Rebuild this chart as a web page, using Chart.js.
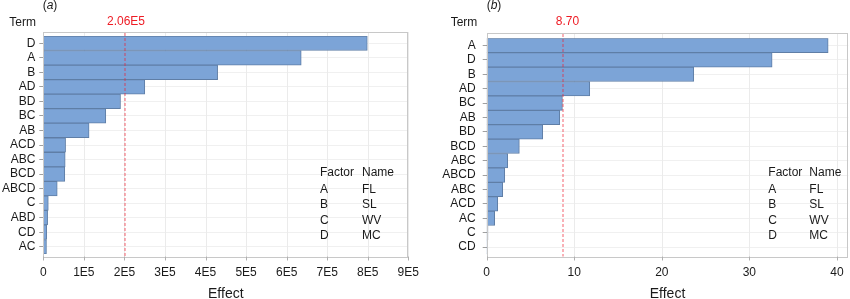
<!DOCTYPE html>
<html>
<head>
<meta charset="utf-8">
<script src="https://cdn.jsdelivr.net/npm/chart.js@4.4.1/dist/chart.umd.min.js"></script>
<style>
  body { margin: 0; background: #fff; }
  #wrap { position: relative; width: 850px; height: 299px; }
  #chartA { position: absolute; left: 0; top: 0; }
  #chartB { position: absolute; left: 420px; top: 0; }
</style>
</head>
<body>
<div id="wrap">
  <canvas id="chartA" width="420" height="299"></canvas>
  <canvas id="chartB" width="430" height="299"></canvas>
</div>
<script>
// panel (a)
const termsA = ['D', 'A', 'B', 'AD', 'BD', 'BC', 'AB', 'ACD', 'ABC', 'BCD', 'ABCD', 'C', 'ABD', 'CD', 'AC'];
const effectsA = [814000, 648000, 438000, 255000, 194000, 157000, 115000, 56000, 55000, 54000, 35000, 12600, 10900, 8400, 8000];
const tickLabelsA = ['0', '1E5', '2E5', '3E5', '4E5', '5E5', '6E5', '7E5', '8E5', '9E5'];
const refA = 206000;
const refLabelA = '2.06E5';

// panel (b)
const termsB = ['A', 'D', 'B', 'AD', 'BC', 'AB', 'BD', 'BCD', 'ABC', 'ABCD', 'ABC', 'ACD', 'AC', 'C', 'CD'];
const effectsB = [39.0, 32.6, 23.65, 11.77, 8.65, 8.34, 6.4, 3.73, 2.4, 2.06, 1.83, 1.26, 0.91, 0.15, 0.1];
const tickLabelsB = ['0', '10', '20', '30', '40'];
const refB = 8.70;
const refLabelB = '8.70';

const factors = ['A', 'B', 'C', 'D'];
const factorNames = ['FL', 'SL', 'WV', 'MC'];

const FONT = 'Liberation Sans, Arial, Helvetica, sans-serif';

const panelDecor = {
  id: 'panelDecor',
  beforeDatasetsDraw(chart, args, o) {
    const { ctx, scales: { x } } = chart;
    ctx.save();
    ctx.strokeStyle = '#ebebeb';
    ctx.lineWidth = 1;
    x.ticks.forEach(t => {
      const px = Math.round(x.getPixelForValue(t.value)) + 0.5;
      ctx.beginPath();
      ctx.moveTo(px, o.frameTop);
      ctx.lineTo(px, o.frameBottom);
      ctx.stroke();
    });
    ctx.restore();
  },
  afterDatasetsDraw(chart, args, o) {
    const { ctx, chartArea: a, scales: { x } } = chart;
    ctx.save();

    // frame
    ctx.strokeStyle = '#c8c8c8';
    ctx.lineWidth = 1;
    const l = Math.round(a.left) + 0.5, r = Math.round(a.right) - 0.5;
    ctx.strokeRect(l, Math.round(o.frameTop) + 0.5, r - l, Math.round(o.frameBottom - o.frameTop));

    // x tick marks
    ctx.strokeStyle = '#b0b0b0';
    x.ticks.forEach(t => {
      const px = Math.round(x.getPixelForValue(t.value)) + 0.5;
      ctx.beginPath();
      ctx.moveTo(px, o.frameBottom);
      ctx.lineTo(px, o.frameBottom + 4);
      ctx.stroke();
    });

    // reference line (soft, straddles two pixel columns like the original)
    const rx = Math.round(x.getPixelForValue(o.ref));
    ctx.strokeStyle = 'rgba(238, 32, 48, 0.7)';
    ctx.setLineDash([3, 2]);
    ctx.beginPath();
    ctx.moveTo(rx, o.frameTop + 1);
    ctx.lineTo(rx, o.frameBottom);
    ctx.stroke();
    ctx.setLineDash([]);

    ctx.textBaseline = 'middle';
    ctx.font = '12px ' + FONT;
    ctx.fillStyle = '#ee1c25';
    ctx.textAlign = 'center';
    ctx.fillText(o.refLabel, rx + o.refShift, 22);

    ctx.fillStyle = '#1a1a1a';
    ctx.textAlign = 'right';
    ctx.fillText('Term', o.termX, 22.5);

    // panel label (a)/(b)
    ctx.textAlign = 'left';
    let px = o.panelX;
    ctx.fillText('(', px, 6);
    px += ctx.measureText('(').width;
    ctx.font = 'italic 12px ' + FONT;
    ctx.fillText(o.panel, px, 6);
    px += ctx.measureText(o.panel).width;
    ctx.font = '12px ' + FONT;
    ctx.fillText(')', px, 6);

    // factor legend
    const rows = [190, 205, 220.5, 235.7];
    ctx.fillText('Factor', o.legX1, 173);
    ctx.fillText('Name', o.legX2, 173);
    factors.forEach((f, i) => {
      ctx.fillText(f, o.legX1, rows[i]);
      ctx.fillText(factorNames[i], o.legX2, rows[i]);
    });
    ctx.restore();
  }
};

function makeChart(id, terms, effects, tickLabels, opts) {
  return new Chart(document.getElementById(id), {
    type: 'bar',
    data: {
      labels: terms,
      datasets: [{
        data: effects,
        backgroundColor: '#7ca4d7',
        borderColor: '#5f7ea6',
        borderWidth: 1,
        borderSkipped: false,
        barPercentage: 1,
        categoryPercentage: 1
      }]
    },
    options: {
      indexAxis: 'y',
      responsive: false,
      animation: false,
      layout: { padding: { top: opts.top, right: opts.right, left: 0, bottom: 0 } },
      plugins: {
        legend: { display: false },
        tooltip: { enabled: false },
        panelDecor: opts.decor
      },
      scales: {
        x: {
          type: 'linear',
          min: 0,
          max: opts.max,
          grid: { display: false, drawTicks: false },
          border: { display: false },
          ticks: {
            stepSize: opts.step,
            includeBounds: false,
            maxRotation: 0,
            autoSkip: false,
            padding: 11,
            color: '#1a1a1a',
            font: { family: FONT, size: 12 },
            callback: (v, i) => tickLabels[i]
          },
          title: {
            display: true,
            text: 'Effect',
            color: '#1a1a1a',
            font: { family: FONT, size: 14 },
            padding: { top: 0, bottom: -4 }
          },
          afterFit: s => {
            s.height = opts.xHeight;
            s.paddingLeft = 0;
            s.paddingRight = 0;
          }
        },
        y: {
          grid: { color: '#f0f0f0', tickColor: '#a0a0a0', tickLength: 4, offset: false },
          border: { display: false },
          ticks: {
            padding: opts.yPad,
            autoSkip: false,
            color: '#1a1a1a',
            font: { family: FONT, size: 12 }
          },
          afterFit: s => { s.width = opts.yWidth; }
        }
      }
    },
    plugins: [panelDecor]
  });
}

makeChart('chartA', termsA, effectsA, tickLabelsA, {
  top: 36, right: 11.7, max: 917000, step: 100000, xHeight: 45, yWidth: 43.3, yPad: 4,
  decor: { frameTop: 32, frameBottom: 256.5, ref: refA, refLabel: refLabelA, refShift: 1,
           termX: 36, panelX: 42.7, panel: 'a', legX1: 320, legX2: 362 }
});

makeChart('chartB', termsB, effectsB, tickLabelsB, {
  top: 38.3, right: 1.7, max: 41.3, step: 10, xHeight: 44.7, yWidth: 66.7, yPad: 7,
  decor: { frameTop: 33, frameBottom: 256.5, ref: refB, refLabel: refLabelB, refShift: 4.5,
           termX: 57.3, panelX: 66.7, panel: 'b', legX1: 348.3, legX2: 389.3 }
});
</script>
</body>
</html>
